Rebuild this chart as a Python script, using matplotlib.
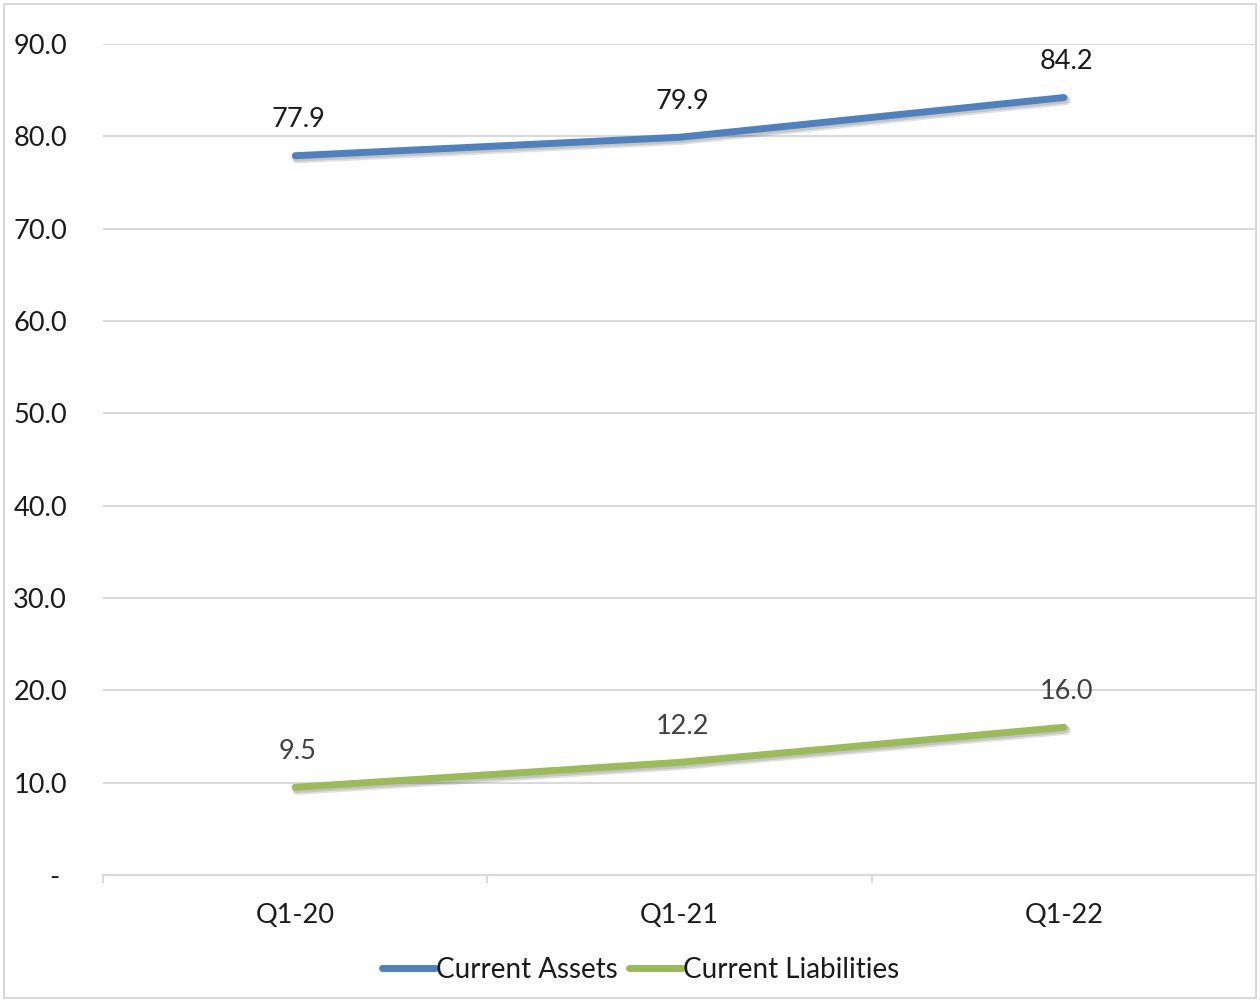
import matplotlib
matplotlib.use("Agg")
import matplotlib.pyplot as plt
import matplotlib.patheffects as pe
from matplotlib.ticker import FixedLocator, FuncFormatter
from matplotlib.lines import Line2D
from matplotlib.patches import Rectangle

categories = ["Q1-20", "Q1-21", "Q1-22"]
current_assets = [77.9, 79.9, 84.2]
current_liabilities = [9.5, 12.2, 16.0]
series_names = ["Current Assets", "Current Liabilities"]
y_ticks = [0, 10, 20, 30, 40, 50, 60, 70, 80, 90]

plt.rcParams['font.family'] = ['Lato', 'DejaVu Sans']

fig = plt.figure(figsize=(12.6, 10.02), dpi=100)
ax = fig.add_axes([103/1260, 127/1002, 1153/1260, 831/1002])

blue = "#4E81BD"
green = "#9BBB59"
x = list(range(len(categories)))

shadow = [pe.SimpleLineShadow(offset=(1.5, -2.0), shadow_color="#000000", alpha=0.12, linewidth=7),
          pe.SimpleLineShadow(offset=(1.0, -1.5), shadow_color="#000000", alpha=0.12, linewidth=5.5),
          pe.Normal()]
ax.plot(x, current_assets, color=blue, lw=5, solid_capstyle="round", path_effects=shadow, zorder=3)
ax.plot(x, current_liabilities, color=green, lw=5, solid_capstyle="round", path_effects=shadow, zorder=3)

for xi, v in zip(x, current_assets):
    ax.annotate(f"{v:.1f}", (xi, v), xytext=(2, 26), textcoords="offset points",
                ha="center", va="center", fontsize=19.5, color="#1a1a1a")
for xi, v in zip(x, current_liabilities):
    ax.annotate(f"{v:.1f}", (xi, v), xytext=(2, 26), textcoords="offset points",
                ha="center", va="center", fontsize=19.5, color="#404040")

ax.set_xlim(-0.5, 2.5)
ax.set_ylim(0, 90)
ax.yaxis.set_major_locator(FixedLocator(y_ticks))
ax.yaxis.set_major_formatter(FuncFormatter(lambda v, p: "- " if v == 0 else f"{v:.1f}"))
ax.set_xticks(x)
ax.set_xticklabels(categories)
ax.xaxis.set_minor_locator(FixedLocator([-0.5, 0.5, 1.5, 2.5]))

ax.grid(axis="y", color="#D9D9D9", lw=1.5, zorder=0)
for s in ["top", "right", "left"]:
    ax.spines[s].set_visible(False)
ax.spines["bottom"].set_color("#D9D9D9")
ax.spines["bottom"].set_linewidth(1.5)
ax.tick_params(axis="y", length=0, pad=26, labelsize=19.5, labelcolor="#1a1a1a")
ax.tick_params(axis="x", which="major", length=0, pad=20, labelsize=19.5, labelcolor="#1a1a1a")
ax.tick_params(axis="x", which="minor", length=6, width=1.5, color="#D9D9D9", direction="out")

handles = [Line2D([0], [0], color=blue, lw=5, solid_capstyle="round"),
           Line2D([0], [0], color=green, lw=5, solid_capstyle="round")]
fig.legend(handles, series_names, loc="center", bbox_to_anchor=(0.5 + 11/1260, 32/1002), ncol=2,
           frameon=False, fontsize=20, handlelength=1.9, handletextpad=0.05, columnspacing=0.4,
           labelcolor="#1a1a1a")

fig.patches.append(Rectangle((4/1260, 4/1002), 1252/1260, 994/1002, transform=fig.transFigure,
                             fill=False, edgecolor="#D9D9D9", lw=1.5))

fig.savefig("out.png", dpi=100, facecolor="white")
